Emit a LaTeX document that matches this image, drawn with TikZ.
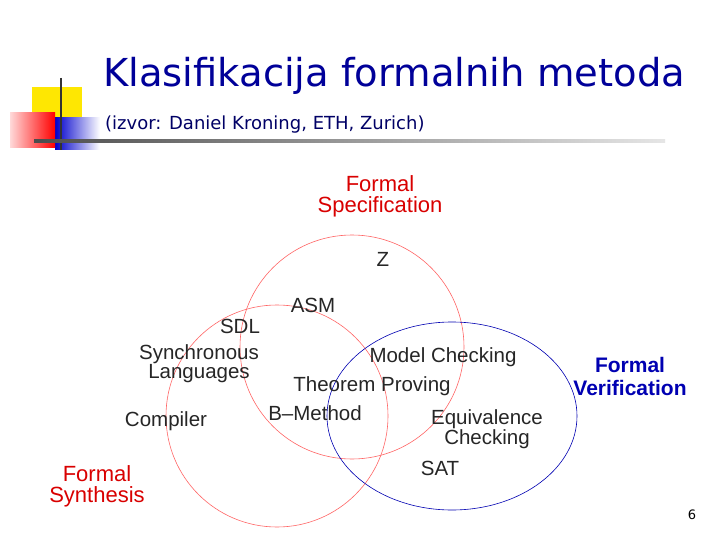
\documentclass[tikz,border=0pt]{standalone}
\usepackage{fontspec}
\setmainfont{Liberation Sans}
\newfontfamily\tah{DejaVu Sans}
\begin{document}
\begin{tikzpicture}[x=1pt,y=-1pt,
 lbl/.style={font=\fontsize{20.5}{19}\selectfont,align=center,inner sep=0pt,text=black!85},
 cat/.style={font=\fontsize{22}{21}\selectfont,align=center,inner sep=0pt}]
\useasboundingbox[fill=white] (0,0) rectangle (720,540);
% logo
\fill[yellow!90!orange] (32,87) rectangle (82,122);
\shade[left color=blue!80!black,right color=white] (55,118) rectangle (100,150);
\shade[left color=red!15,right color=red] (10,113) rectangle (55,148);
\draw[black!80,line width=1.5] (61,78) -- (61,150);
\shade[left color=black!70,right color=black!10] (34,140) rectangle (665,142.5);
\node[anchor=west,text=blue!60!black,font=\tah\fontsize{38.5}{38}\selectfont,inner sep=0] (t) at (103,76) {Klasifikacija formalnih metoda};
\node[anchor=west,text=blue!40!black,font=\tah\fontsize{18}{18}\selectfont,inner sep=0] (s) at (105,125) {(izvor: Daniel Kroning, ETH, Zurich)};
% circles
\draw[red!60,line width=0.6] (352,347) circle (112);
\draw[red!60,line width=0.6] (277,416) circle (111);
\draw[blue!70!black,line width=0.6] (452,416) ellipse (125 and 94);
\node[cat,text=red!85!black] (fs) at (380,196) {Formal\\Specification};
\node[cat,text=blue!70!black,font=\bfseries\fontsize{21}{23}\selectfont] (fv) at (630,376) {Formal\\Verification};
\node[cat,text=red!85!black] (fy) at (97,486) {Formal\\Synthesis};
\node[lbl] (z) at (383,259) {Z};
\node[lbl] (asm) at (313,305) {ASM};
\node[lbl] (sdl) at (240,326) {SDL};
\node[lbl] (sl) at (199,364) {Synchronous\\Languages};
\node[lbl] (mc) at (443,357) {Model Checking};
\node[lbl] (tp) at (372,386) {Theorem Proving};
\node[lbl] (bm) at (315,413) {B--Method};
\node[lbl] (co) at (166,421) {Compiler};
\node[lbl] (ec) at (487,429) {Equivalence\\Checking};
\node[lbl] (sat) at (440,468) {SAT};
\node[font=\tah\fontsize{13}{13}\selectfont,inner sep=0] (n) at (692,515) {6};
\end{tikzpicture}
\end{document}
